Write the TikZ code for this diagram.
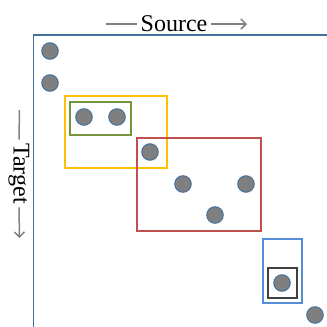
\documentclass[tikz,border=0pt]{standalone}
\usepackage{fontspec}
\setmainfont{Liberation Serif}
\usepackage{tikz}
\usetikzlibrary{arrows,arrows.meta,calc}
\definecolor{axisblue}{HTML}{41719C}
\definecolor{dotblue}{HTML}{41719C}
\definecolor{dotgray}{HTML}{7F7F7F}
\definecolor{linegray}{HTML}{808080}
\definecolor{boxgreen}{HTML}{77933C}
\definecolor{boxyellow}{HTML}{FFC000}
\definecolor{boxred}{HTML}{C0504D}
\definecolor{boxblue}{HTML}{558ED5}
\definecolor{boxdark}{HTML}{404040}

\begin{document}
\begin{tikzpicture}[x=1pt,y=-1pt]
\tikzset{
	dot node/.style = {circle, draw = dotblue, fill = dotgray, line width = 1pt, inner sep = 0, minimum size = 16.5pt},
	box/.style = {line width = 2pt},
	axis line/.style = {draw = axisblue, line width = 1.5pt},
	label line/.style = {draw = linegray, line width = 1.5pt, >={Straight Barb[length=5pt,width=10pt]}},
	label node/.style = {inner sep = 3.5pt, font = \fontsize{24}{28}\selectfont}
}
\useasboundingbox(0,0)rectangle(327,327);
\draw[axis line](33.5,327)--(33.5,35)--(327,35);
\node(1)[dot node]at(50,51){};
\node(2)[dot node]at(50,83){};
\node(3)[dot node]at(84,117){};
\node(4)[dot node]at(117,117){};
\node(5)[dot node]at(150,152){};
\node(6)[dot node]at(183,184){};
\node(7)[dot node]at(246,184){};
\node(8)[dot node]at(215,215){};
\node(9)[dot node]at(282,283){};
\node(10)[dot node]at(315,315){};
\draw[box,draw = boxgreen](70,102)rectangle(131,135);
\draw[box,draw = boxyellow](65,95.5)rectangle(167,167.5);
\draw[box,draw = boxred](137,138)rectangle(261,231);
\draw[box,draw = boxblue](263,238.5)rectangle(302,302.5);
\draw[box,draw = boxdark](268,268)rectangle(297,297.5);
\node(source)[label node]at(174,24){Source};
\coordinate(source l)at(106,24);
\coordinate(source r)at(247,24);
\draw[label line](source l)--(source.west);
\draw[label line,->](source.east)--(source r);
\node(target)[label node,rotate=-90]at(19,173.5){Target};
\coordinate(target t)at(19.5,110);
\coordinate(target b)at(19.5,238);
\draw[label line](target t)--(target.west);
\draw[label line,->](target.east)--(target b);
\end{tikzpicture}
\end{document}
